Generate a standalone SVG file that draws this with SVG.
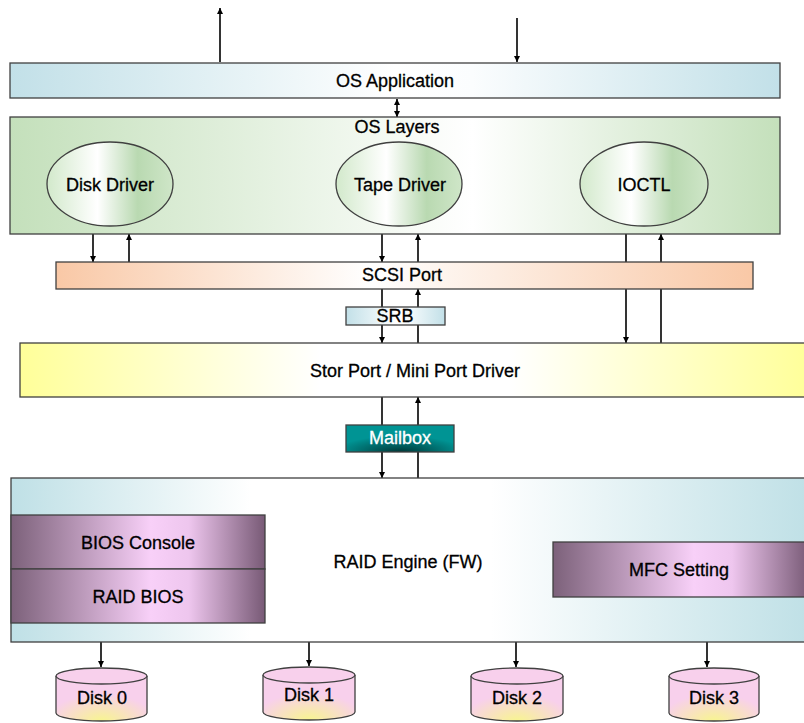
<svg xmlns="http://www.w3.org/2000/svg" width="804" height="723" viewBox="0 0 804 723">
<defs>
<linearGradient id="gBlue" x1="0" y1="0" x2="1" y2="0">
<stop offset="0" stop-color="#c2e0e8"/><stop offset="0.5" stop-color="#ffffff"/><stop offset="0.6" stop-color="#fbfdfe"/><stop offset="1" stop-color="#c2e0e8"/>
</linearGradient>
<linearGradient id="gGreen" x1="0" y1="0" x2="1" y2="0">
<stop offset="0" stop-color="#c4e0bb"/><stop offset="0.6" stop-color="#ffffff"/><stop offset="1" stop-color="#c4e0bb"/>
</linearGradient>
<linearGradient id="gOrange" x1="0" y1="0" x2="1" y2="0">
<stop offset="0" stop-color="#f9c8a6"/><stop offset="0.45" stop-color="#ffffff"/><stop offset="1" stop-color="#f9c8a6"/>
</linearGradient>
<linearGradient id="gYellow" x1="0" y1="0" x2="1" y2="0">
<stop offset="0" stop-color="#ffff99"/><stop offset="0.38" stop-color="#ffffff"/><stop offset="0.62" stop-color="#ffffff"/><stop offset="1" stop-color="#ffff99"/>
</linearGradient>
<linearGradient id="gRaid" x1="0" y1="0" x2="1" y2="0">
<stop offset="0" stop-color="#bfe0e6"/><stop offset="0.3" stop-color="#ffffff"/><stop offset="0.6" stop-color="#ffffff"/><stop offset="1" stop-color="#bfe0e6"/>
</linearGradient>
<linearGradient id="gEll" x1="0" y1="0" x2="1" y2="0">
<stop offset="0" stop-color="#d2e9cb"/><stop offset="0.4" stop-color="#ffffff"/><stop offset="0.72" stop-color="#b9d9b1"/><stop offset="1" stop-color="#cfe6c8"/>
</linearGradient>
<linearGradient id="gPurple" x1="0" y1="0" x2="1" y2="0">
<stop offset="0" stop-color="#7c617a"/><stop offset="0.55" stop-color="#f8d0f8"/><stop offset="0.7" stop-color="#eec6ee"/><stop offset="1" stop-color="#785a76"/>
</linearGradient>
<radialGradient id="gMail" cx="0.5" cy="1" r="0.6">
<stop offset="0" stop-color="#003838"/><stop offset="1" stop-color="#009494"/>
</radialGradient>
<radialGradient id="gDisk" cx="0.5" cy="1" r="0.6">
<stop offset="0" stop-color="#f8f590"/><stop offset="1" stop-color="#f8d0ec"/>
</radialGradient>
<marker id="ah" viewBox="0 0 10 10" refX="10" refY="5" markerWidth="7" markerHeight="6" markerUnits="userSpaceOnUse" orient="auto-start-reverse">
<path d="M0,0 L10,5 L0,10 z" fill="#000"/>
</marker>
<style>
.box{stroke:#404040;stroke-width:1.3}
.t{font-family:"Liberation Sans",Arial,sans-serif;font-size:18px;fill:#000;stroke:#000;stroke-width:0.3;text-anchor:middle}
.w{fill:#fff;stroke:#fff}
.c{stroke:#000;stroke-width:1.6;fill:none}
.a{marker-end:url(#ah)}
.b{marker-start:url(#ah);marker-end:url(#ah)}
</style>
</defs>

<g id="connectors">
<line class="c a" x1="220" y1="62" x2="220" y2="8"/>
<line class="c a" x1="517" y1="18" x2="517" y2="62"/>
<line class="c b" x1="397" y1="99" x2="397" y2="117"/>
<line class="c a" x1="93" y1="234" x2="93" y2="262"/>
<line class="c a" x1="129" y1="262" x2="129" y2="234"/>
<line class="c a" x1="382" y1="234" x2="382" y2="262"/>
<line class="c a" x1="418" y1="262" x2="418" y2="234"/>
<line class="c a" x1="626" y1="234" x2="626" y2="343"/>
<line class="c a" x1="661" y1="343" x2="661" y2="234"/>
<line class="c a" x1="382" y1="289" x2="382" y2="343"/>
<line class="c a" x1="418" y1="343" x2="418" y2="289"/>
<line class="c a" x1="382" y1="397" x2="382" y2="478"/>
<line class="c a" x1="418" y1="478" x2="418" y2="397"/>
<line class="c a" x1="101" y1="642" x2="101" y2="667"/>
<line class="c a" x1="309" y1="642" x2="309" y2="666"/>
<line class="c a" x1="516" y1="642" x2="516" y2="667"/>
<line class="c a" x1="707" y1="642" x2="707" y2="667"/>
</g>

<g id="os-application">
<rect class="box" x="10" y="63" width="770" height="35" fill="url(#gBlue)"/>
<text class="t" x="395" y="87">OS Application</text>
</g>

<g id="os-layers">
<rect class="box" x="10" y="117" width="770" height="117" fill="url(#gGreen)"/>
<text class="t" x="397" y="133">OS Layers</text>
</g>

<g id="disk-driver">
<ellipse class="box" cx="110" cy="184" rx="63" ry="42" fill="url(#gEll)"/>
<text class="t" x="110" y="191">Disk Driver</text>
</g>

<g id="tape-driver">
<ellipse class="box" cx="399" cy="184" rx="63" ry="42" fill="url(#gEll)"/>
<text class="t" x="400" y="191">Tape Driver</text>
</g>

<g id="ioctl">
<ellipse class="box" cx="644" cy="184" rx="64" ry="42" fill="url(#gEll)"/>
<text class="t" x="644" y="191">IOCTL</text>
</g>

<g id="scsi-port">
<rect class="box" x="56" y="262" width="697" height="27" fill="url(#gOrange)"/>
<text class="t" x="402" y="281">SCSI Port</text>
</g>

<g id="srb">
<rect class="box" x="346" y="307" width="99" height="18" fill="url(#gBlue)"/>
<text class="t" x="395" y="322">SRB</text>
</g>

<g id="stor-port">
<rect class="box" x="20" y="343" width="790" height="54" fill="url(#gYellow)"/>
<text class="t" x="415" y="377">Stor Port / Mini Port Driver</text>
</g>

<g id="mailbox">
<rect class="box" x="346" y="425" width="108" height="27" fill="url(#gMail)"/>
<text class="t w" x="400" y="444">Mailbox</text>
</g>

<g id="raid-engine">
<rect class="box" x="11" y="478" width="800" height="164" fill="url(#gRaid)"/>
<text class="t" x="408" y="568">RAID Engine (FW)</text>
</g>

<g id="bios-console">
<rect class="box" x="11" y="515" width="254" height="54" fill="url(#gPurple)"/>
<text class="t" x="138" y="549">BIOS Console</text>
</g>

<g id="raid-bios">
<rect class="box" x="11" y="569" width="254" height="54" fill="url(#gPurple)"/>
<text class="t" x="138" y="603">RAID BIOS</text>
</g>

<g id="mfc-setting">
<rect class="box" x="553" y="542" width="256" height="55" fill="url(#gPurple)"/>
<text class="t" x="679" y="576">MFC Setting</text>
</g>

<g id="disk0">
<path class="box" d="M56,676 L56,713 A45.5,8 0 0 0 147,713 L147,676" fill="url(#gDisk)"/>
<ellipse class="box" cx="101.5" cy="676" rx="45.5" ry="8" fill="#f8d0ec"/>
<text class="t" x="102" y="704">Disk 0</text>
</g>

<g id="disk1">
<path class="box" d="M263,675 L263,712 A46,8 0 0 0 355,712 L355,675" fill="url(#gDisk)"/>
<ellipse class="box" cx="309" cy="675" rx="46" ry="8" fill="#f8d0ec"/>
<text class="t" x="309" y="701">Disk 1</text>
</g>

<g id="disk2">
<path class="box" d="M471,676 L471,713 A46,8 0 0 0 563,713 L563,676" fill="url(#gDisk)"/>
<ellipse class="box" cx="517" cy="676" rx="46" ry="8" fill="#f8d0ec"/>
<text class="t" x="517" y="704">Disk 2</text>
</g>

<g id="disk3">
<path class="box" d="M669,676 L669,713 A45,8 0 0 0 759,713 L759,676" fill="url(#gDisk)"/>
<ellipse class="box" cx="714" cy="676" rx="45" ry="8" fill="#f8d0ec"/>
<text class="t" x="714" y="704">Disk 3</text>
</g>
</svg>
